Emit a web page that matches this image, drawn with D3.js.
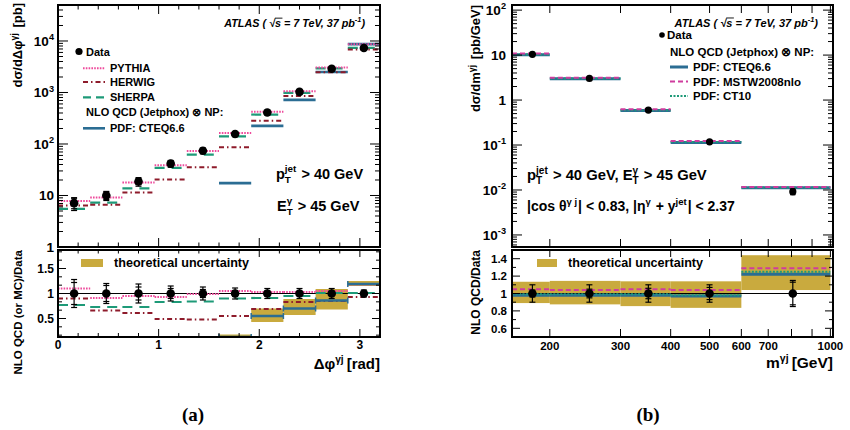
<!DOCTYPE html>
<html><head><meta charset="utf-8">
<script src="https://cdn.jsdelivr.net/npm/d3@7"></script>
<style>body{margin:0;background:#fff} text{font-family:"Liberation Sans",Arial,Helvetica,sans-serif;font-weight:bold;fill:#000;white-space:pre} text.serif{font-family:"Liberation Serif","Times New Roman",serif}</style>
</head><body><svg id="c" width="850" height="430"></svg>
<script>
// ---------- data: panel (a) Δφ ----------
const dphiEdges = [0,0.32,0.64,0.96,1.28,1.6,1.92,2.24,2.56,2.88,3.2];
const dphiPoint = [0.16,0.48,0.80,1.12,1.44,1.76,2.08,2.40,2.72,3.04];
const dphiData = [7.1,10,18.7,41.6,74,156,410,1030,2900,7300];
const dphiErrTot = [0.28,0.20,0.19,0.15,0.13,0.11,0.10,0.10,0.10,0.07];
const dphiErrStat = [0.22,0.16,0.13,0.10,0.08,0.06,0.05,0.04,0.04,0.03];
const dphiPythia = [7.8,9.1,17.8,38.7,73,164,422,1060,3050,8600];
const dphiHerwig = [6.4,6.6,11.4,20.4,35.5,86,283,855,2470,6800];
const dphiSherpa = [5.5,7.3,13.7,34.5,62,140,373,980,2930,7370];
const dphiCteq = [null,null,null,null,null,17.4,225,720,2500,8700];
const dphiPythiaRatio = [1.10,0.91,0.95,0.93,0.99,1.05,1.03,1.03,1.05,1.18];
const dphiHerwigRatio = [0.90,0.66,0.61,0.49,0.48,0.55,0.69,0.83,0.85,0.93];
const dphiSherpaRatio = [0.77,0.73,0.73,0.83,0.84,0.90,0.91,0.95,1.01,1.01];
const dphiCteqRatio = [null,null,null,null,null,0.11,0.55,0.70,0.86,1.19];
const dphiBandLo = [null,null,null,null,null,0.0,0.43,0.57,0.68,1.15];
const dphiBandHi = [null,null,null,null,null,0.18,0.70,0.89,1.09,1.25];
const dphiYTicks = [1,10,100,1000,10000];
const dphiYLabels = [["1"],["10"],["10",{sup:"2"}],["10",{sup:"3"}],["10",{sup:"4"}]];
const dphiXTicks = [0,1,2,3];
const dphiRatioTicks = [0.5,1,1.5];

// ---------- data: panel (b) m ----------
const mEdges = [160,200,300,400,600,1000];
const mPoint = [181,251,352,500,806];
const mData = [10.4,3.03,0.60,0.118,0.0092];
const mErrTot = [0.10,0.10,0.10,0.10,0.15];
const mErrStat = [0.04,0.05,0.06,0.07,0.13];
const mCteq = [10.2,2.97,0.588,0.114,0.0112];
const mMstw = [10.9,3.15,0.626,0.123,0.0117];
const mCt10 = [10.3,3.00,0.594,0.117,0.0114];
const mCteqRatio = [0.98,0.98,0.98,0.97,1.22];
const mMstwRatio = [1.05,1.04,1.05,1.04,1.29];
const mCt10Ratio = [0.99,0.99,0.99,0.98,1.25];
const mBandLo = [0.89,0.875,0.855,0.835,1.04];
const mBandHi = [1.135,1.145,1.14,1.14,1.44];
const mYTicks = [1e-3,1e-2,1e-1,1,10,100];
const mYLabels = [["10",{sup:"-3"}],["10",{sup:"-2"}],["10",{sup:"-1"}],["1"],["10"],["10",{sup:"2"}]];
const mXTicks = [200,300,400,500,600,700,800,900,1000];
const mXLabels = [200,300,400,500,600,700,1000];
const mRatioTicks = [0.6,0.8,1.0,1.2,1.4];

// ---------- colours ----------
const cPythia="#ee4a9c", cHerwig="#8e1b2b", cSherpa="#1e9a78", cCteq="#2b6d93", cMstw="#cf3c9e", cCt10="#1e9a78", cBand="#c9aa3e";

const svg = d3.select("#c");
svg.append("rect").attr("width",850).attr("height",430).attr("fill","#fff");

// rich text helper (sup/sub)
function rich(parent, x, y, parts, size, opt={}) {
  const g = parent.append("g");
  const inner = g.append("g");
  let cx = 0;
  parts.forEach(p => {
    if (typeof p === "string") {
      const t = inner.append("text").attr("x",cx).attr("y",0).attr("font-size",size).text(p);
      if (opt.italic) t.attr("font-style","italic");
      cx += t.node().getComputedTextLength();
    } else {
      let w = 0;
      const fs = size*(p.scale||0.68);
      if (p.sup) { const t = inner.append("text").attr("x",cx).attr("y",-size*0.42).attr("font-size",fs).text(p.sup); if(opt.italic) t.attr("font-style","italic"); w=Math.max(w,t.node().getComputedTextLength()); }
      if (p.sub) { const t = inner.append("text").attr("x",cx).attr("y",size*0.3).attr("font-size",fs).text(p.sub); w=Math.max(w,t.node().getComputedTextLength()); }
      if (p.over) {
        const t = inner.append("text").attr("x",cx).attr("y",0).attr("font-size",size).text(p.over);
        if (opt.italic) t.attr("font-style","italic");
        const ww = t.node().getComputedTextLength();
        inner.append("line").attr("x1",cx).attr("x2",cx+ww+1.5).attr("y1",-size*0.82).attr("y2",-size*0.82).attr("stroke","#000").attr("stroke-width",0.9);
        w = ww;
      }
      cx += w + (p.pad||0);
    }
  });
  const dx = opt.anchor==="end" ? -cx : opt.anchor==="middle" ? -cx/2 : 0;
  g.attr("transform",`translate(${x},${y}) rotate(${opt.rotate||0})`);
  inner.attr("transform",`translate(${dx},0)`);
  return g;
}

// ---------- scales ----------
const xL = d3.scaleLinear().domain([0,3.2]).range([58,380]);
const yLt = d3.scaleLog().domain([1,5e4]).range([247,5]).clamp(true);
const yLb = d3.scaleLinear().domain([0.13,1.87]).range([337,250]).clamp(true);
const xR = d3.scaleLog().domain([161,1015]).range([512,833]).clamp(true);
const yRt = d3.scaleLog().domain([5.4e-4,130]).range([247,5]).clamp(true);
const yRb = d3.scaleLinear().domain([0.5,1.5]).range([337,250]).clamp(true);

const defs = svg.append("defs");
function clip(id,x0,y0,x1,y1){ defs.append("clipPath").attr("id",id).append("rect").attr("x",x0).attr("y",y0).attr("width",x1-x0).attr("height",y1-y0); }
clip("cLt",58,5,380,247); clip("cLb",58,250,380,337); clip("cRt",512,5,833,247); clip("cRb",512,250,833,337);

function steps(g, sx, sy, edges, vals, st) {
  g.append("g").selectAll("line").data(vals.map((v,i)=>({v,i})).filter(d=>d.v!=null)).join("line")
    .attr("x1",d=>sx(edges[d.i])).attr("x2",d=>sx(edges[d.i+1]))
    .attr("y1",d=>sy(d.v)).attr("y2",d=>sy(d.v))
    .attr("stroke",st.c).attr("stroke-width",st.w).attr("stroke-dasharray",st.d||null);
}
function bands(g, sx, sy, edges, lo, hi) {
  g.append("g").selectAll("rect").data(lo.map((v,i)=>({lo:v,hi:hi[i],i})).filter(d=>d.lo!=null)).join("rect")
    .attr("x",d=>sx(edges[d.i])).attr("width",d=>sx(edges[d.i+1])-sx(edges[d.i]))
    .attr("y",d=>sy(d.hi)).attr("height",d=>sy(d.lo)-sy(d.hi)).attr("fill",cBand);
}
function points(g, sx, sy, xs, vals, tot, stat, r, cap, rel) {
  const d = vals.map((v,i)=>({x:xs[i],v,t:rel?v*tot[i]:tot[i],s:rel?v*stat[i]:stat[i]}));
  const gg = g.append("g");
  gg.selectAll(".eb").data(d).join("line").attr("x1",e=>sx(e.x)).attr("x2",e=>sx(e.x))
    .attr("y1",e=>sy(e.v+e.t)).attr("y2",e=>sy(e.v-e.t)).attr("stroke","#000").attr("stroke-width",1.2);
  [e=>e.v+e.t, e=>e.v-e.t, e=>e.v+e.s, e=>e.v-e.s].forEach(f=>{
    gg.selectAll(null).data(d).join("line").attr("x1",e=>sx(e.x)-cap).attr("x2",e=>sx(e.x)+cap)
      .attr("y1",e=>sy(f(e))).attr("y2",e=>sy(f(e))).attr("stroke","#000").attr("stroke-width",1.2);
  });
  gg.selectAll("circle").data(d).join("circle").attr("cx",e=>sx(e.x)).attr("cy",e=>sy(e.v)).attr("r",r).attr("fill","#000");
}
function hTicks(g, sx, vals, y, len) {
  g.append("g").selectAll("line").data(vals).join("line").attr("x1",d=>sx(d)).attr("x2",d=>sx(d))
    .attr("y1",y).attr("y2",y+len).attr("stroke","#000").attr("stroke-width",1);
}
function vTicks(g, sy, vals, x, len) {
  g.append("g").selectAll("line").data(vals).join("line").attr("y1",d=>sy(d)).attr("y2",d=>sy(d))
    .attr("x1",x).attr("x2",x+len).attr("stroke","#000").attr("stroke-width",1);
}
function logMinor(lo,hi){ const r=[]; for(let e=-4;e<=5;e++) for(let k=2;k<=9;k++){const v=k*Math.pow(10,e); if(v>lo&&v<hi) r.push(v);} return r; }
function frame(x0,y0,x1,y1){ svg.append("rect").attr("x",x0).attr("y",y0).attr("width",x1-x0).attr("height",y1-y0).attr("fill","none").attr("stroke","#000").attr("stroke-width",2); }

// ================= PANEL (a) top =================
const gLt = svg.append("g").attr("clip-path","url(#cLt)");
steps(gLt,xL,yLt,dphiEdges,dphiCteq,{c:cCteq,w:2.6});
steps(gLt,xL,yLt,dphiEdges,dphiSherpa,{c:cSherpa,w:2.2,d:"10,7"});
steps(gLt,xL,yLt,dphiEdges,dphiHerwig,{c:cHerwig,w:2,d:"5,3,1.5,3"});
steps(gLt,xL,yLt,dphiEdges,dphiPythia,{c:cPythia,w:2,d:"1.6,1.2"});
points(gLt,xL,yLt,dphiPoint,dphiData,dphiErrTot,dphiErrStat,4.3,3,true);

const tLt = svg.append("g");
vTicks(tLt,yLt,dphiYTicks,58,10); vTicks(tLt,yLt,dphiYTicks,380,-10);
vTicks(tLt,yLt,logMinor(1,5e4),58,5); vTicks(tLt,yLt,logMinor(1,5e4),380,-5);
const xMin = d3.range(0.2,3.2,0.2).filter(v=>Math.abs(v-Math.round(v))>0.01);
hTicks(tLt,xL,dphiXTicks,5,9); hTicks(tLt,xL,dphiXTicks,247,-9);
hTicks(tLt,xL,xMin,5,4.5); hTicks(tLt,xL,xMin,247,-4.5);
dphiYTicks.forEach((v,i)=>rich(svg,54,yLt(v)+5,dphiYLabels[i],13.5,{anchor:"end"}));
frame(58,5,380,247);

// legend (a)
const fL = 11;
svg.append("circle").attr("cx",79).attr("cy",51.5).attr("r",3.6).attr("fill","#000");
svg.append("text").attr("x",86).attr("y",55.5).attr("font-size",fL).text("Data");
[[cPythia,"1.6,1.2",2,"PYTHIA",68.3],[cHerwig,"5,3,1.5,3",2,"HERWIG",82],[cSherpa,"8,5",2.2,"SHERPA",97.3]].forEach(s=>{
  svg.append("line").attr("x1",83).attr("x2",105).attr("y1",s[4]).attr("y2",s[4]).attr("stroke",s[0]).attr("stroke-width",s[2]).attr("stroke-dasharray",s[1]);
  svg.append("text").attr("x",110).attr("y",s[4]+4).attr("font-size",fL).text(s[3]);
});
svg.append("text").attr("x",86).attr("y",116.3).attr("font-size",fL).text("NLO QCD (Jetphox) \u2297 NP:");
svg.append("line").attr("x1",83).attr("x2",105).attr("y1",128.3).attr("y2",128.3).attr("stroke",cCteq).attr("stroke-width",2.6);
svg.append("text").attr("x",110).attr("y",132.3).attr("font-size",fL).text("PDF: CTEQ6.6");
rich(svg,365,27,["ATLAS ( \u221A",{over:"s"}," = 7 TeV, 37 pb",{sup:"-1"},")"],10.8,{anchor:"end",italic:true});
rich(svg,276,178.5,["p",{sup:"jet",sub:"T",pad:1}," > 40 GeV"],14.5);
rich(svg,277,210.5,["E",{sup:"\u03B3",sub:"T",pad:1}," > 45 GeV"],14.5);
rich(svg,22,3,["d\u03C3/d\u0394\u03C6",{sup:"\u03B3j",pad:2}," [pb]"],13,{anchor:"end",rotate:-90});

// ================= PANEL (a) bottom =================
const gLb = svg.append("g").attr("clip-path","url(#cLb)");
bands(gLb,xL,yLb,dphiEdges,dphiBandLo,dphiBandHi);
gLb.append("line").attr("x1",xL(0)).attr("x2",xL(3.2)).attr("y1",yLb(1)).attr("y2",yLb(1)).attr("stroke","#000").attr("stroke-width",1.2);
steps(gLb,xL,yLb,dphiEdges,dphiSherpaRatio,{c:cSherpa,w:2.2,d:"10,7"});
steps(gLb,xL,yLb,dphiEdges,dphiHerwigRatio,{c:cHerwig,w:2,d:"5,3,1.5,3"});
steps(gLb,xL,yLb,dphiEdges,dphiPythiaRatio,{c:cPythia,w:2,d:"1.6,1.2"});
steps(gLb,xL,yLb,dphiEdges,dphiCteqRatio,{c:cCteq,w:2.6});
gLb.append("g").selectAll("line").data(dphiCteqRatio.map((v,i)=>({v,i})).filter(d=>d.v!=null).flatMap(d=>[{x:dphiEdges[d.i],v:d.v},{x:dphiEdges[d.i+1],v:d.v}])).join("line")
  .attr("x1",d=>xL(d.x)).attr("x2",d=>xL(d.x)).attr("y1",d=>yLb(d.v)-3).attr("y2",d=>yLb(d.v)+3).attr("stroke",cCteq).attr("stroke-width",1.5);
points(gLb,xL,yLb,dphiPoint,dphiData.map(()=>1),dphiErrTot,dphiErrStat,4.3,3,false);

const tLb = svg.append("g");
const rMinL = d3.range(1,12).map(k=>k/6).filter(v=>v>0.13&&v<1.87&&Math.abs(v*2-Math.round(v*2))>0.01);
vTicks(tLb,yLb,dphiRatioTicks,58,8); vTicks(tLb,yLb,dphiRatioTicks,380,-8);
vTicks(tLb,yLb,rMinL,58,4); vTicks(tLb,yLb,rMinL,380,-4);
hTicks(tLb,xL,dphiXTicks,250,7); hTicks(tLb,xL,dphiXTicks,337,-8);
hTicks(tLb,xL,xMin,250,3.5); hTicks(tLb,xL,xMin,337,-4);
dphiRatioTicks.forEach(v=>svg.append("text").attr("x",54).attr("y",yLb(v)+4.3).attr("font-size",12).attr("text-anchor","end").text(v));
dphiXTicks.forEach(v=>svg.append("text").attr("x",xL(v)).attr("y",349).attr("font-size",12).attr("text-anchor","middle").text(v));
frame(58,250,380,337);
svg.append("rect").attr("x",81).attr("y",259).attr("width",22).attr("height",8).attr("fill",cBand);
svg.append("text").attr("x",114).attr("y",267).attr("font-size",12.6).text("theoretical uncertainty");
rich(svg,22,250,["NLO QCD (or MC)/Data"],11.5,{anchor:"end",rotate:-90});
rich(svg,380,369,["\u0394\u03C6",{sup:"\u03B3j",pad:3},"[rad]"],15,{anchor:"end"});

// ================= PANEL (b) top =================
const gRt = svg.append("g").attr("clip-path","url(#cRt)");
steps(gRt,xR,yRt,mEdges,mCteq,{c:cCteq,w:3});
steps(gRt,xR,yRt,mEdges,mCt10,{c:cCt10,w:2,d:"2,1.5"});
steps(gRt,xR,yRt,mEdges,mMstw,{c:cMstw,w:2,d:"5,3"});
points(gRt,xR,yRt,mPoint,mData,mErrTot,mErrStat,3.6,2.5,true);

const tRt = svg.append("g");
vTicks(tRt,yRt,mYTicks,512,10); vTicks(tRt,yRt,mYTicks,833,-10);
vTicks(tRt,yRt,logMinor(5.4e-4,130),512,5); vTicks(tRt,yRt,logMinor(5.4e-4,130),833,-5);
hTicks(tRt,xR,mXTicks,5,8); hTicks(tRt,xR,mXTicks,247,-8);
mYTicks.forEach((v,i)=>rich(svg,506,yRt(v)+5,mYLabels[i],13.5,{anchor:"end"}));
frame(512,5,833,247);

const fR = 11.5;
rich(svg,818,27,["ATLAS ( \u221A",{over:"s"}," = 7 TeV, 37 pb",{sup:"-1"},")"],11,{anchor:"end",italic:true});
svg.append("circle").attr("cx",662).attr("cy",35).attr("r",2.8).attr("fill","#000");
svg.append("text").attr("x",667).attr("y",39).attr("font-size",fR).text("Data");
svg.append("text").attr("x",670).attr("y",56).attr("font-size",fR).text("NLO QCD (Jetphox) \u2297 NP:");
[[cCteq,null,3,"PDF: CTEQ6.6",67],[cMstw,"5,3",2,"PDF: MSTW2008nlo",81.5],[cCt10,"2,1.5",2,"PDF: CT10",96]].forEach(s=>{
  svg.append("line").attr("x1",670).attr("x2",688).attr("y1",s[4]).attr("y2",s[4]).attr("stroke",s[0]).attr("stroke-width",s[2]).attr("stroke-dasharray",s[1]);
  svg.append("text").attr("x",693).attr("y",s[4]+4.1).attr("font-size",fR).text(s[3]);
});
rich(svg,527,180,["p",{sup:"jet",sub:"T",pad:1}," > 40 GeV, E",{sup:"\u03B3",sub:"T",pad:1}," > 45 GeV"],14.8);
rich(svg,527,211,["|cos \u03B8",{sup:"\u03B3 j",pad:1},"| < 0.83, |\u03B7",{sup:"\u03B3",pad:1}," + y",{sup:"jet",pad:1},"| < 2.37"],14);
rich(svg,480,5,["d\u03C3/dm",{sup:"\u03B3j",pad:2}," [pb/GeV]"],13,{anchor:"end",rotate:-90});

// ================= PANEL (b) bottom =================
const gRb = svg.append("g").attr("clip-path","url(#cRb)");
bands(gRb,xR,yRb,mEdges,mBandLo,mBandHi);
gRb.append("line").attr("x1",512).attr("x2",833).attr("y1",yRb(1)).attr("y2",yRb(1)).attr("stroke","#000").attr("stroke-width",1.2);
steps(gRb,xR,yRb,mEdges,mCteqRatio,{c:cCteq,w:3});
steps(gRb,xR,yRb,mEdges,mCt10Ratio,{c:cCt10,w:2,d:"2,1.5"});
steps(gRb,xR,yRb,mEdges,mMstwRatio,{c:cMstw,w:2,d:"5,3"});
points(gRb,xR,yRb,mPoint,mData.map(()=>1),mErrTot,mErrStat,4.3,3,false);

const tRb = svg.append("g");
const rMinR = d3.range(0.5,1.5,0.1).map(v=>+v.toFixed(2)).filter(v=>!mRatioTicks.some(t=>Math.abs(t-v)<0.01));
vTicks(tRb,yRb,mRatioTicks,512,8); vTicks(tRb,yRb,mRatioTicks,833,-8);
vTicks(tRb,yRb,rMinR,512,4); vTicks(tRb,yRb,rMinR,833,-4);
hTicks(tRb,xR,mXTicks,250,7); hTicks(tRb,xR,mXTicks,337,-8);
mRatioTicks.forEach(v=>svg.append("text").attr("x",507).attr("y",yRb(v)+4.3).attr("font-size",11.5).attr("text-anchor","end").text(v===1?"1":d3.format(".1f")(v)));
mXLabels.forEach(v=>svg.append("text").attr("x",xR(v)).attr("y",350).attr("font-size",11.5).attr("text-anchor","middle").text(v));
frame(512,250,833,337);
svg.append("rect").attr("x",537).attr("y",259).attr("width",20).attr("height",8).attr("fill",cBand);
svg.append("text").attr("x",568).attr("y",267).attr("font-size",12.6).text("theoretical uncertainty");
rich(svg,480,250,["NLO QCD/Data"],12,{anchor:"end",rotate:-90});
rich(svg,833,368,["m",{sup:"\u03B3j",pad:3},"[GeV]"],15.5,{anchor:"end"});

// captions
svg.append("text").attr("class","serif").attr("x",193).attr("y",421).attr("font-size",19).attr("text-anchor","middle").text("(a)");
svg.append("text").attr("class","serif").attr("x",648).attr("y",421).attr("font-size",19).attr("text-anchor","middle").text("(b)");
</script></body></html>
